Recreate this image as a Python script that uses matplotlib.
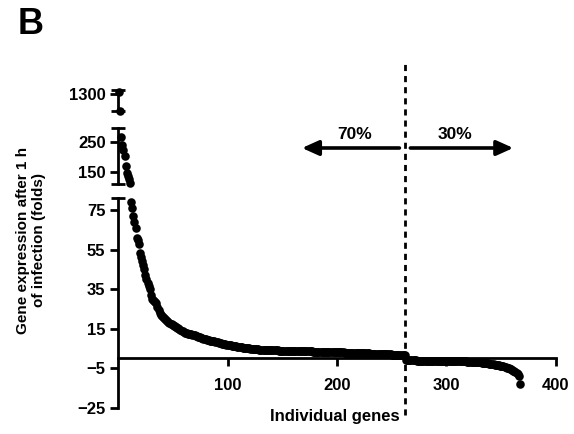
import numpy as np
import matplotlib
matplotlib.use("Agg")
import matplotlib.pyplot as plt
from matplotlib.transforms import blended_transform_factory

plt.rcParams['font.family'] = ['Liberation Sans', 'DejaVu Sans']
plt.rcParams['font.weight'] = 'bold'

# fold change per gene, sorted high to low (genes 1..262 are up-regulated)
up_genes = [
    1330, 1010, 268, 240, 222, 204, 170, 146, 136, 128,
    113, 79, 76, 72, 69, 66, 61, 60, 58, 53,
    51, 49, 47, 45, 42, 40, 38, 36.5, 35, 32,
    30, 29.5, 29, 28.5, 28, 26, 24.5, 23, 22, 21.5,
    21, 20.5, 20, 19.5, 19, 18.5, 18, 17.6, 17.2, 16.9,
    16.6, 16.3, 16.0, 15.6, 15.2, 14.8, 14.4, 14.0, 13.7, 13.4,
    13.1, 12.9, 12.7, 12.5, 12.4, 12.3, 12.1, 12.0, 11.8, 11.6,
    11.4, 11.2, 11.0, 10.8, 10.6, 10.4, 10.2, 10.0, 9.9, 9.7,
    9.5, 9.4, 9.2, 9.0, 8.9, 8.8, 8.7, 8.6, 8.4, 8.3,
    8.2, 8.0, 7.8, 7.7, 7.5, 7.4, 7.3, 7.1, 7.0, 6.9,
    6.8, 6.7, 6.6, 6.5, 6.4, 6.3, 6.2, 6.1, 6.0, 5.9,
    5.8, 5.7, 5.6, 5.5, 5.4, 5.4, 5.3, 5.2, 5.1, 5.1,
    5.0, 4.9, 4.9, 4.8, 4.8, 4.7, 4.6, 4.6, 4.5, 4.5,
    4.5, 4.4, 4.4, 4.4, 4.3, 4.3, 4.3, 4.3, 4.2, 4.2,
    4.2, 4.2, 4.1, 4.1, 4.1, 4.1, 4.0, 4.0, 4.0, 4.0,
    4.0, 3.9, 3.9, 3.9, 3.9, 3.9, 3.8, 3.8, 3.8, 3.8,
    3.8, 3.8, 3.7, 3.7, 3.7, 3.7, 3.7, 3.7, 3.7, 3.6,
    3.6, 3.6, 3.6, 3.6, 3.6, 3.6, 3.6, 3.5, 3.5, 3.5,
    3.5, 3.5, 3.5, 3.4, 3.4, 3.4, 3.4, 3.4, 3.4, 3.3,
    3.3, 3.3, 3.3, 3.3, 3.3, 3.2, 3.2, 3.2, 3.2, 3.2,
    3.2, 3.1, 3.1, 3.1, 3.1, 3.1, 3.0, 3.0, 3.0, 3.0,
    3.0, 2.9, 2.9, 2.9, 2.9, 2.9, 2.8, 2.8, 2.8, 2.8,
    2.8, 2.7, 2.7, 2.7, 2.7, 2.6, 2.6, 2.6, 2.6, 2.5,
    2.5, 2.5, 2.5, 2.4, 2.4, 2.4, 2.4, 2.3, 2.3, 2.3,
    2.3, 2.2, 2.2, 2.2, 2.2, 2.1, 2.1, 2.1, 2.1, 2.0,
    2.0, 2.0, 2.0, 2.0, 1.9, 1.9, 1.9, 1.9, 1.8, 1.8,
    1.8, 1.7,
]
down_genes = [
    -0.8, -0.8, -0.9, -0.9, -0.9, -1.0, -1.0, -1.0, -1.0, -1.0,
    -1.1, -1.1, -1.1, -1.1, -1.1, -1.1, -1.1, -1.1, -1.1, -1.1,
    -1.1, -1.1, -1.2, -1.2, -1.2, -1.2, -1.2, -1.2, -1.2, -1.2,
    -1.2, -1.2, -1.3, -1.3, -1.3, -1.3, -1.3, -1.3, -1.3, -1.3,
    -1.3, -1.3, -1.4, -1.4, -1.4, -1.4, -1.4, -1.4, -1.4, -1.4,
    -1.4, -1.5, -1.5, -1.5, -1.5, -1.5, -1.6, -1.6, -1.6, -1.6,
    -1.6, -1.7, -1.7, -1.8, -1.8, -1.9, -1.9, -2.0, -2.0, -2.1,
    -2.1, -2.2, -2.2, -2.3, -2.4, -2.5, -2.6, -2.7, -2.8, -2.9,
    -3.0, -3.1, -3.2, -3.3, -3.4, -3.5, -3.6, -3.8, -3.9, -4.0,
    -4.2, -4.4, -4.6, -4.8, -5.0, -5.2, -5.5, -5.8, -6.1, -6.5,
    -7.0, -7.5, -8.0, -9.0, -13.0,
]

folds = np.array(up_genes + down_genes)
gene_idx = np.arange(1, len(folds) + 1)
split_x = len(up_genes) + 0.5

# three pieces of the broken y axis: (ylim, major ticks, axes rect)
segments = [
    ((-25, 81), [-25, -5, 15, 35, 55, 75], [0.2056, 0.0599, 0.763, 0.4839]),
    ((110, 297), [150, 250], [0.2056, 0.576, 0.763, 0.129]),
    ((1000, 1360), [1300], [0.2056, 0.744, 0.763, 0.0486]),
]

fig = plt.figure(figsize=(5.74, 4.34), dpi=100)
axes = []
for (lo, hi), ticks, rect in segments:
    ax = fig.add_axes(rect)
    ax.set_facecolor('none')
    ax.set_xlim(0, 400)
    ax.set_ylim(lo, hi)
    keep = (folds >= lo) & (folds <= hi)
    ax.scatter(gene_idx[keep], folds[keep], s=38, color='black', lw=0, zorder=3, clip_on=False)
    for s in ['top', 'right', 'bottom']:
        ax.spines[s].set_visible(False)
    ax.spines['left'].set_linewidth(2)
    ax.set_yticks(ticks)
    ax.set_yticks([lo, hi], minor=True)
    ax.tick_params(axis='y', which='major', direction='out', length=6, width=2,
                   labelsize=12, pad=3)
    ax.tick_params(axis='y', which='minor', direction='inout', length=10, width=2)
    ax.set_xticks([])
    for lab in ax.get_yticklabels():
        lab.set_fontweight('bold')
    axes.append(ax)

ax = axes[0]
ax.spines['bottom'].set_visible(True)
ax.spines['bottom'].set_position(('data', 0))
ax.spines['bottom'].set_linewidth(2)
ax.set_xticks([100, 200, 300, 400])
ax.tick_params(axis='x', direction='out', length=6, width=2, labelsize=12, pad=8)
for lab in ax.get_xticklabels():
    lab.set_fontweight('bold')
fig.text(0.584, 0.041, 'Individual genes', ha='center', va='center',
         fontsize=12, fontweight='bold')

# dashed separator between up and down regulated genes
trans = blended_transform_factory(ax.transData, fig.transFigure)
ax.plot([split_x, split_x], [0.043, 0.857], transform=trans, color='black', lw=2,
        ls=(0, (2.2, 1.8)), clip_on=False, zorder=4)

arrow_y = 0.659
arrow_style = dict(arrowstyle='-|>,head_length=1.0,head_width=0.45', color='black',
                   lw=2.6, shrinkA=0, shrinkB=0)
ax.annotate('', xy=(168, arrow_y), xytext=(257, arrow_y), xycoords=trans, textcoords=trans,
            arrowprops=arrow_style)
ax.annotate('', xy=(361, arrow_y), xytext=(267, arrow_y), xycoords=trans, textcoords=trans,
            arrowprops=arrow_style)
ax.text(216, 0.69, '70%', transform=trans, ha='center', va='center', fontsize=12.5, fontweight='bold')
ax.text(308, 0.69, '30%', transform=trans, ha='center', va='center', fontsize=12.5, fontweight='bold')

fig.text(0.054, 0.447, 'Gene expression after 1 h\nof infection (folds)', rotation=90,
         ha='center', va='center', multialignment='center', fontsize=11, fontweight='bold',
         linespacing=1.25)
fig.text(0.03, 0.943, 'B', ha='left', va='center', fontsize=26, fontweight='bold')

fig.savefig('out.png', dpi=100)
